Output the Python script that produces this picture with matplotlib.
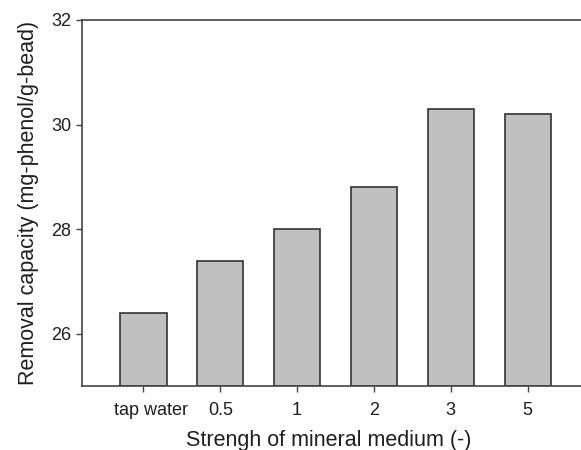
import numpy as np
import matplotlib
matplotlib.use("Agg")
import matplotlib.pyplot as plt
from matplotlib.transforms import ScaledTranslation

categories = ["tap water", "0.5", "1", "2", "3", "5"]
capacity = [26.4, 27.4, 28.0, 28.8, 30.3, 30.2]
y_ticks = [26, 28, 30, 32]

plt.rcParams['font.family'] = ['Liberation Sans', 'DejaVu Sans']
text_color = "#1e1e1e"

fig = plt.figure(figsize=(5.81, 4.5), dpi=100)
# the original frame runs past the right edge of the picture
ax = fig.add_axes([82 / 581, 1 - 386 / 450, (589 - 82) / 581, (386 - 20) / 450])

x = np.arange(len(categories))
ax.bar(x, np.array(capacity) - 25, bottom=25, width=0.6,
       color="#c0c0c0", edgecolor="#333333", linewidth=1.2)

ax.set_xlim(-0.8, len(categories) - 0.2)
ax.set_ylim(25, 32)
ax.set_yticks(y_ticks)
ax.set_xticks(x)
ax.set_xticklabels(categories)

for side in ["top", "bottom", "left"]:
    ax.spines[side].set_color("#444444")
    ax.spines[side].set_linewidth(1.2)
ax.spines["right"].set_visible(False)

ax.tick_params(axis="y", length=4.5, width=1, color="#444444", pad=3,
               labelsize=13, labelcolor=text_color)
ax.tick_params(axis="x", length=4.5, width=1, color="#444444", pad=7,
               labelsize=13, labelcolor=text_color)

# first label sits a little right of its tick in the original
lbl = ax.get_xticklabels()[0]
lbl.set_transform(lbl.get_transform() + ScaledTranslation(8 / 100, 0, fig.dpi_scale_trans))

ax.set_xlabel("Strengh of mineral medium (-)", fontsize=15.5, labelpad=6,
              color=text_color)
ax.xaxis.set_label_coords((329 - 82) / (589 - 82), -0.12)
ax.xaxis.label.set_verticalalignment("top")
ax.set_ylabel("Removal capacity (mg-phenol/g-bead)", fontsize=15.5, labelpad=9,
              color=text_color)

fig.savefig("out.png", dpi=100)
